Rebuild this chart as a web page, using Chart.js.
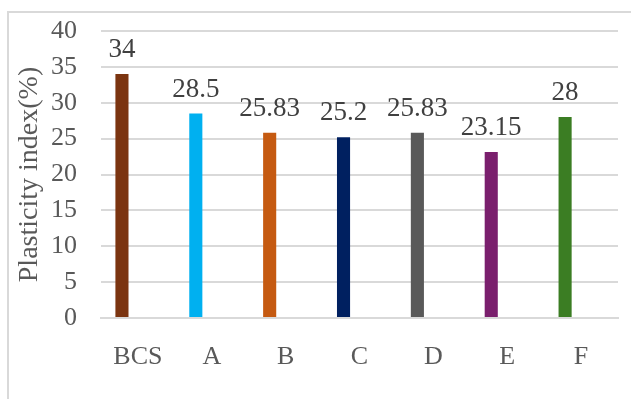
<!DOCTYPE html>
<html>
<head>
<meta charset="utf-8">
<script src="https://cdn.jsdelivr.net/npm/chart.js@4/dist/chart.umd.min.js"></script>
<style>
html,body{margin:0;padding:0;background:#fff;}
#wrap{position:relative;width:631px;height:399px;overflow:hidden;}
#frame{position:absolute;left:7px;top:11px;width:640px;height:400px;border-top:2px solid #d9d9d9;border-left:2px solid #d9d9d9;box-sizing:border-box;}
canvas{position:absolute;left:0;top:0;}
</style>
</head>
<body>
<div id="wrap">
<div id="frame"></div>
<canvas id="c" width="631" height="399"></canvas>
</div>
<script>
const categories = ["BCS", "A", "B", "C", "D", "E", "F"];
const plasticityIndex = [34, 28.5, 25.83, 25.2, 25.83, 23.15, 28];
const valueLabels = ["34", "28.5", "25.83", "25.2", "25.83", "23.15", "28"];
const barColors = ["#7B3410", "#00B0F0", "#C55A11", "#002060", "#595959", "#7A1F6D", "#3B7D23"];
const emptySeries = [null, null, null, null, null, null, null];
const yTicks = [0, 5, 10, 15, 20, 25, 30, 35, 40];

const FONT = "'Liberation Serif', 'Times New Roman', serif";

const labelPlugin = {
  id: 'valueLabels',
  afterDatasetsDraw(chart) {
    const ctx = chart.ctx;
    const meta = chart.getDatasetMeta(0);
    ctx.save();
    ctx.font = "27px " + FONT;
    ctx.fillStyle = "#404040";
    ctx.textAlign = "center";
    ctx.textBaseline = "alphabetic";
    meta.data.forEach((bar, i) => {
      ctx.fillText(valueLabels[i], bar.x, bar.y - 17);
    });
    ctx.restore();
  }
};

new Chart(document.getElementById('c'), {
  type: 'bar',
  data: {
    labels: categories,
    datasets: [
      { label: 'Plasticity index', data: plasticityIndex, backgroundColor: barColors,
        categoryPercentage: 0.865, barPercentage: 0.41 },
      { label: '', data: emptySeries, backgroundColor: 'rgba(0,0,0,0)',
        categoryPercentage: 0.865, barPercentage: 0.41 }
    ]
  },
  options: {
    responsive: false,
    animation: false,
    devicePixelRatio: 1,
    layout: { padding: { left: 13, right: 13, top: 31, bottom: 0 } },
    plugins: { legend: { display: false }, tooltip: { enabled: false } },
    scales: {
      x: {
        grid: { display: false, drawTicks: false },
        border: { display: true, color: '#d9d9d9', width: 2 },
        ticks: { color: '#595959', font: { family: FONT, size: 26 }, padding: 24 },
        afterFit(scale) { scale.height = 81; }
      },
      y: {
        min: 0, max: 40,
        afterBuildTicks(scale) { scale.ticks = yTicks.map(v => ({ value: v })); },
        grid: { color: '#d9d9d9', lineWidth: 2, drawTicks: true, tickLength: 24, tickColor: 'rgba(0,0,0,0)' },
        border: { display: false },
        ticks: { color: '#595959', font: { family: FONT, size: 26 }, padding: 0 },
        title: { display: true, text: 'Plasticity index(%)', color: '#595959',
                 font: { family: FONT, size: 28 }, padding: { top: 0, bottom: 0 } },
        afterFit(scale) { scale.width = 88; }
      }
    }
  },
  plugins: [labelPlugin]
});
</script>
</body>
</html>
